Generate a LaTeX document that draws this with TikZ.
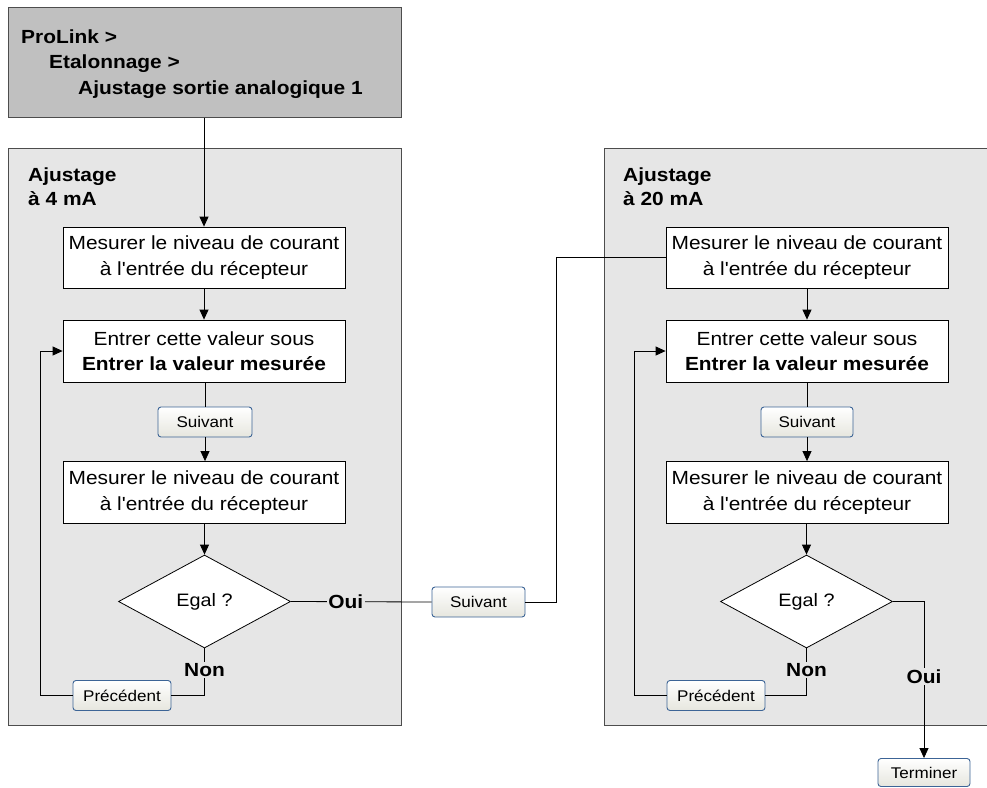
\documentclass[tikz,border=0pt]{standalone}
\usepackage{fontspec}
\setmainfont{Liberation Sans}[FakeStretch=1.1, Ligatures=TeXOff]
\usetikzlibrary{shapes.geometric,arrows.meta}
\definecolor{panel}{HTML}{E6E6E6}
\definecolor{topgray}{HTML}{C0C0C0}
\definecolor{frame}{HTML}{4D4D4D}
\definecolor{btnblue}{RGB}{60,100,150}
\definecolor{btnbot}{RGB}{230,230,222}
\tikzset{
  stepbox/.style={draw=black, fill=white, line width=0.8pt, minimum width=282pt, minimum height=61pt, align=center, inner sep=0pt, font=\fontsize{19}{25.5}\selectfont},
  btn/.style={draw=btnblue, rounded corners=3pt, top color=white, bottom color=btnbot, minimum height=30pt, inner sep=0pt, font=\fontsize{15.5}{18}\selectfont, line width=0.9pt},
  dec/.style={diamond, draw=black, fill=white, line width=0.8pt, minimum width=172pt, minimum height=93pt, inner sep=0pt, font=\fontsize{18}{20}\selectfont},
  lab/.style={fill=panel, inner sep=1.5pt, font=\bfseries\fontsize{19}{20}\selectfont},
  ttl/.style={anchor=base west, inner sep=0pt, font=\bfseries\fontsize{19}{20}\selectfont},
  panelbox/.style={draw=frame, fill=panel, line width=1pt},
  conn/.style={line width=0.8pt},
  arr/.style={conn, -{Triangle[length=10pt,width=9pt]}},
}
\begin{document}
\begin{tikzpicture}[x=1pt,y=-1pt]
\useasboundingbox (0,0) rectangle (987,787);
\clip (0,0) rectangle (987,787);
% header
\node[draw=frame, fill=topgray, line width=1pt, minimum width=393pt, minimum height=110pt, inner sep=0pt] (top) at (204.5,62) {};
\node[ttl] (h1) at (21,43) {ProLink >};
\node[ttl] (h2) at (49,68.5) {Etalonnage >};
\node[ttl] (h3) at (78,94) {Ajustage sortie analogique 1};
% panels
\node[panelbox, minimum width=393pt, minimum height=577pt, inner sep=0pt] (pl) at (204.5,436.5) {};
\node[panelbox, minimum width=390pt, minimum height=577pt, inner sep=0pt] (pr) at (799,436.5) {};
\node[ttl] (tl1) at (28,181) {Ajustage};
\node[ttl] (tl2) at (28,205) {à 4 mA};
\node[ttl] (tr1) at (623,181) {Ajustage};
\node[ttl] (tr2) at (623,205) {à 20 mA};
% left column
\node[stepbox] (b1) at (204,257.5) {Mesurer le niveau de courant\\à l'entrée du récepteur};
\node[stepbox, minimum height=62pt] (b2) at (204,351) {Entrer cette valeur sous\\\textbf{Entrer la valeur mesurée}};
\node[btn, minimum width=94pt] (s1) at (205,422) {Suivant};
\node[stepbox, minimum height=62pt] (b3) at (204,492.5) {Mesurer le niveau de courant\\à l'entrée du récepteur};
\node[dec] (d1) at (204.5,601.5) {Egal ?};
\node[btn, minimum width=98pt] (p1) at (122,695.5) {Précédent};
% middle
\node[btn, minimum width=93pt] (s2) at (478.5,602) {Suivant};
% right column
\node[stepbox] (r1) at (807,257.5) {Mesurer le niveau de courant\\à l'entrée du récepteur};
\node[stepbox, minimum height=62pt] (r2) at (807,351) {Entrer cette valeur sous\\\textbf{Entrer la valeur mesurée}};
\node[btn, minimum width=92pt] (s4) at (807,422) {Suivant};
\node[stepbox, minimum height=62pt] (r3) at (807,492.5) {Mesurer le niveau de courant\\à l'entrée du récepteur};
\node[dec] (d2) at (806.5,601.5) {Egal ?};
\node[btn, minimum width=98pt] (p2) at (716,695.5) {Précédent};
\node[btn, minimum width=92pt, minimum height=28pt] (term) at (924,772.5) {Terminer};
% connectors left
\draw[arr] (b1.north |- top.south) -- (b1.north);
\draw[arr] (b1.south) -- (b2.north);
\draw[conn] (b2.south -| s1.north) -- (s1.north);
\draw[arr] (s1.south) -- (s1.south |- b3.north);
\draw[arr] (b3.south -| d1.north) -- (d1.north);
\draw[conn] (d1.east) -- node[lab, pos=0.39] (oui1) {Oui} (s2.west);
\draw[conn] (s2.east) -- ++(31,0) |- (r1.west);
\draw[conn] (d1.south) |- node[lab, pos=0.23] (non1) {Non} (p1.east);
\draw[arr] (p1.west) -- ++(-32,0) |- (b2.west);
% connectors right
\draw[arr] (r1.south) -- (r2.north);
\draw[conn] (r2.south -| s4.north) -- (s4.north);
\draw[arr] (s4.south) -- (s4.south |- r3.north);
\draw[arr] (r3.south -| d2.north) -- (d2.north);
\draw[arr] (d2.east) -| node[lab, pos=0.74] (oui2) {Oui} (term.north);
\draw[conn] (d2.south) |- node[lab, pos=0.23] (non2) {Non} (p2.east);
\draw[arr] (p2.west) -- ++(-32,0) |- (r2.west);
\end{tikzpicture}
\end{document}
